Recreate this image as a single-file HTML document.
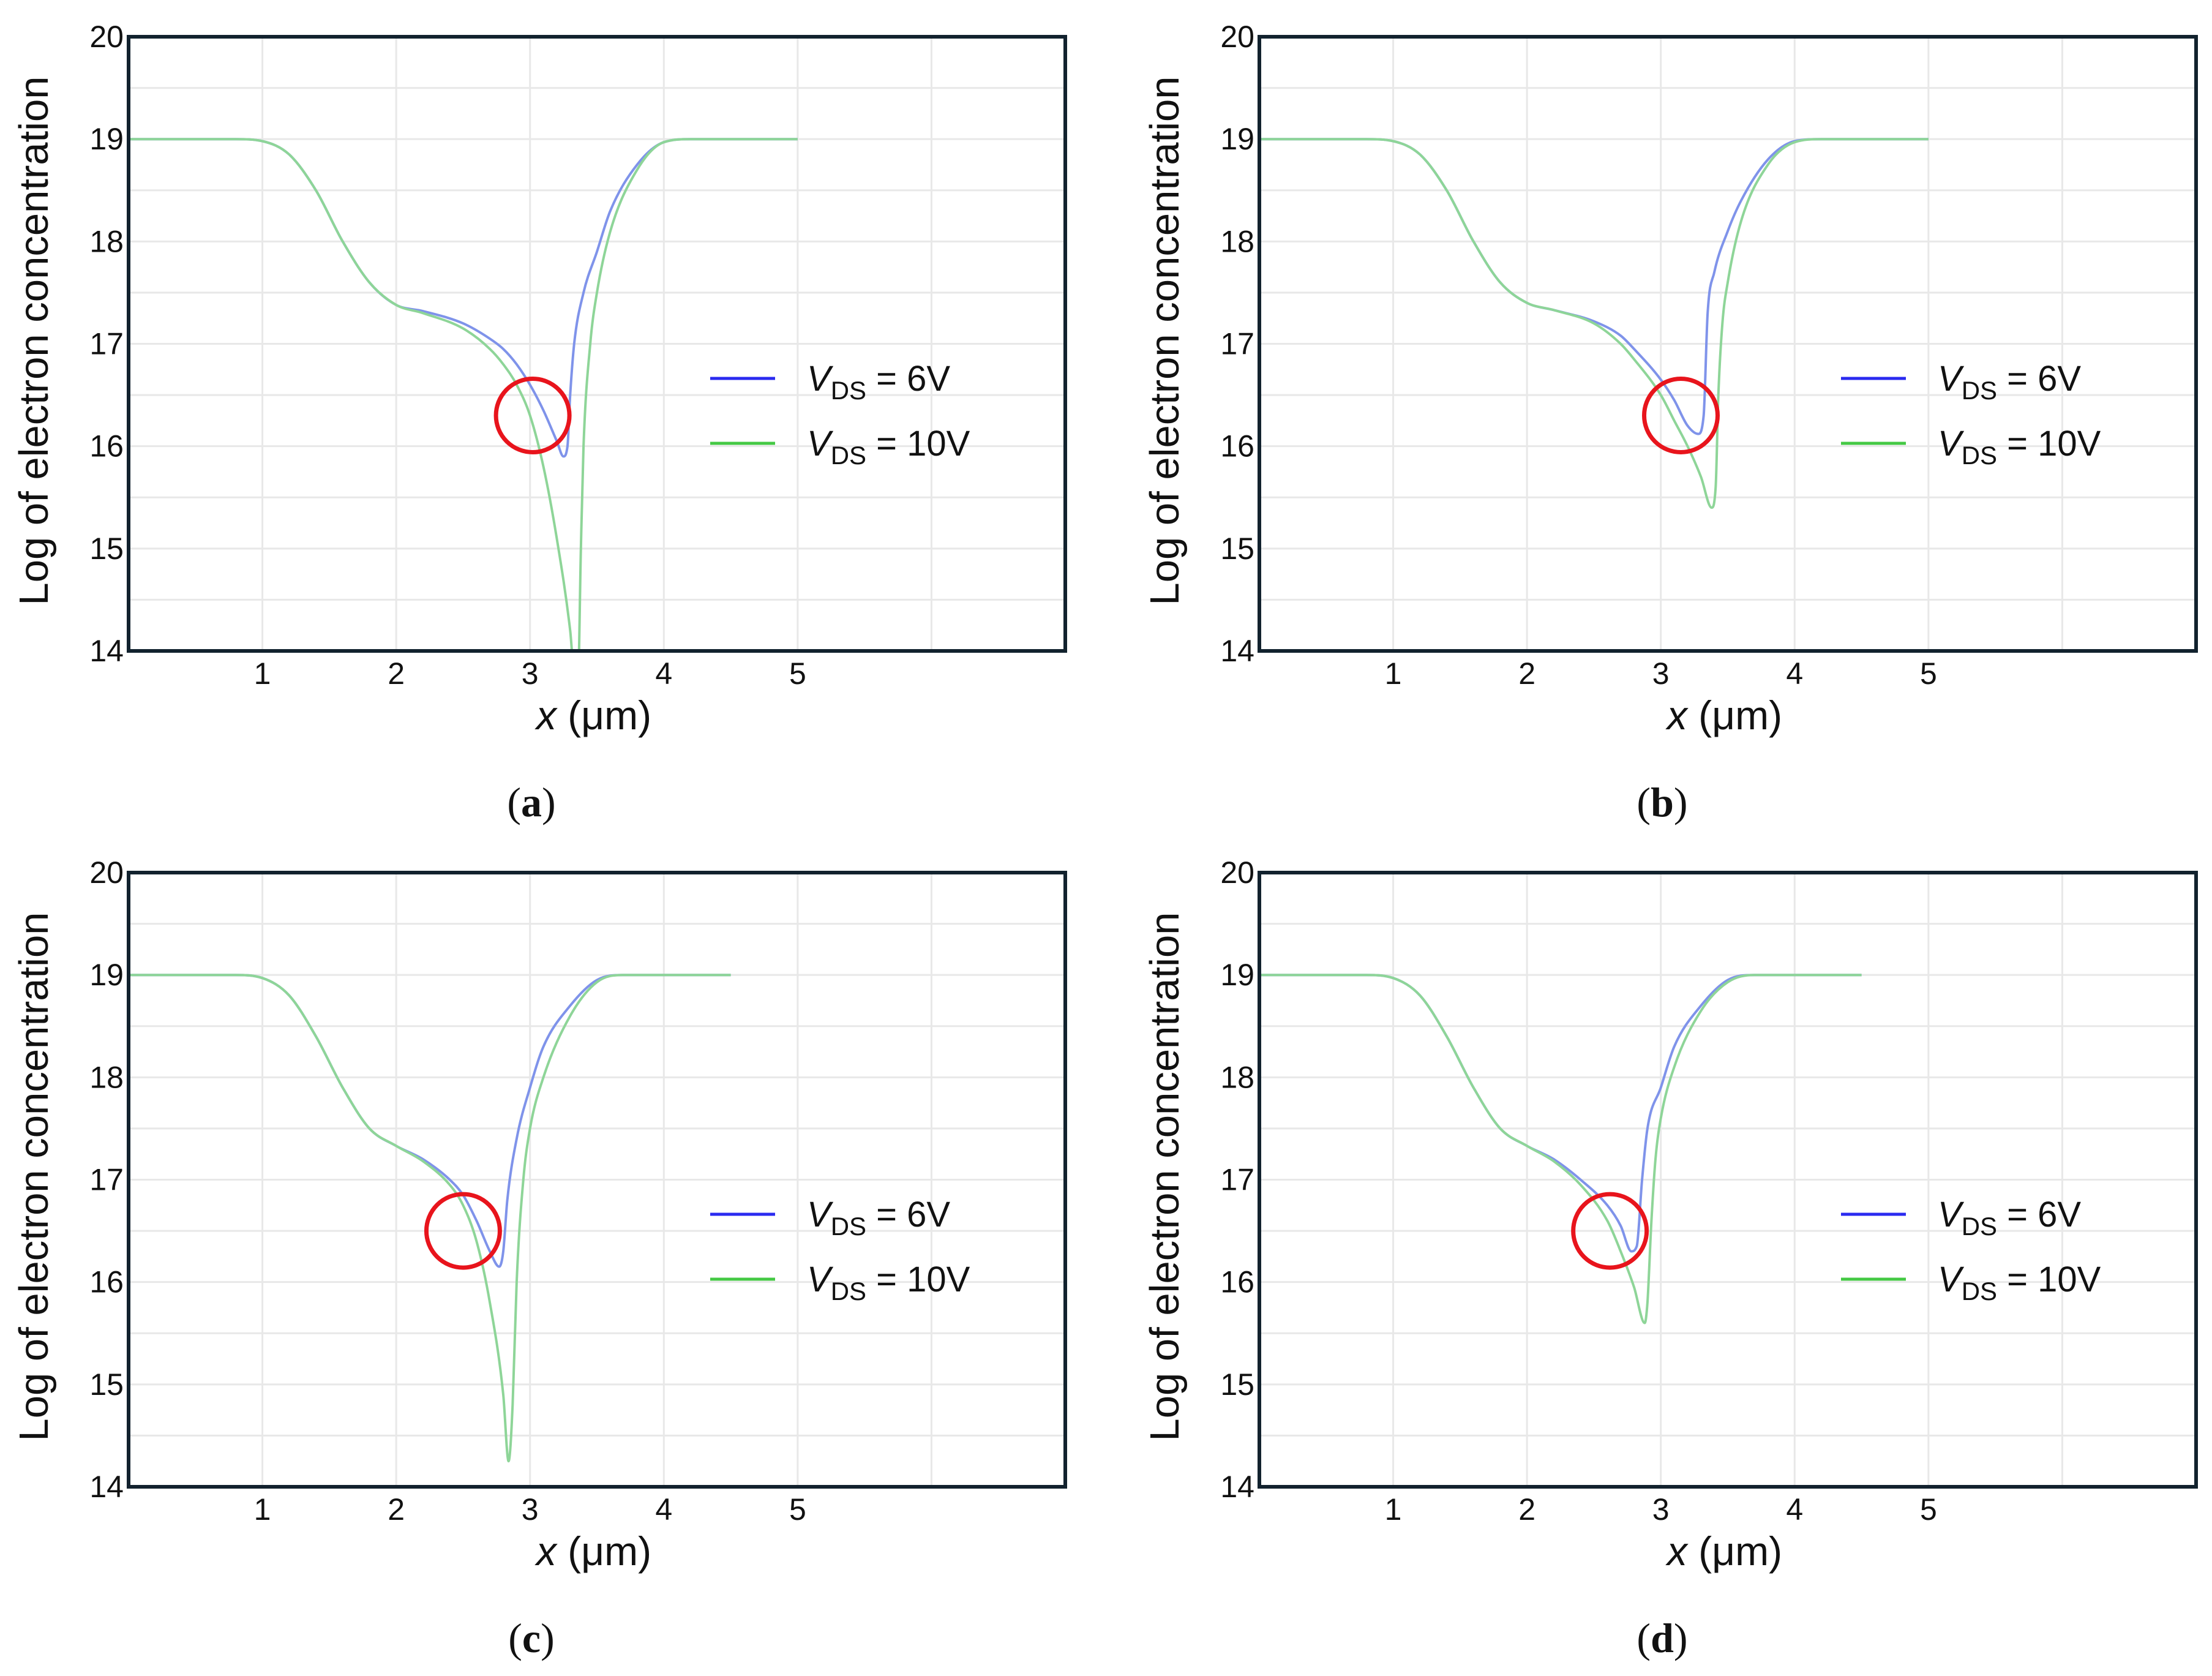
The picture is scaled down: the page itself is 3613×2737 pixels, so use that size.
<!DOCTYPE html>
<html><head><meta charset="utf-8"><style>
html,body{margin:0;padding:0;background:#fff;}
svg{display:block;}
text{font-family:"Liberation Sans",Arial,sans-serif;fill:#111;}
.cap{font-family:"Liberation Serif",serif;}
</style></head><body>
<svg id="fig" width="3613" height="2737" viewBox="0 0 3613 2737" xmlns="http://www.w3.org/2000/svg"></svg>
<script>
const panelLabels = ["a","b","c","d"];
const xTicks = [1,2,3,4,5];
const yTicks = [14,15,16,17,18,19,20];
const blueX = [
 [0,0.8,1.0,1.2,1.4,1.6,1.8,2.0,2.2,2.5,2.7,2.8,2.9,3.0,3.1,3.2,3.25,3.28,3.3,3.33,3.4,3.5,3.6,3.8,4.0,4.2,5.0],
 [0,0.8,1.0,1.2,1.4,1.6,1.8,2.0,2.2,2.5,2.7,2.8,3.0,3.1,3.2,3.28,3.32,3.35,3.4,3.5,3.6,3.8,4.0,4.2,5.0],
 [0,0.8,1.0,1.2,1.4,1.6,1.8,2.0,2.2,2.4,2.5,2.6,2.7,2.77,2.8,2.83,2.9,3.0,3.1,3.3,3.5,3.7,4.5],
 [0,0.8,1.0,1.2,1.4,1.6,1.8,2.0,2.2,2.4,2.6,2.7,2.78,2.82,2.86,2.9,3.0,3.1,3.3,3.5,3.7,4.5]
];
const blueY = [
 [19,19,18.98,18.85,18.5,18.0,17.6,17.38,17.32,17.2,17.05,16.95,16.8,16.6,16.35,16.05,15.9,16.0,16.5,17.0,17.5,17.9,18.3,18.75,18.97,19,19],
 [19,19,18.98,18.85,18.5,18.0,17.6,17.4,17.33,17.22,17.08,16.95,16.65,16.45,16.2,16.12,16.3,17.3,17.7,18.1,18.4,18.8,18.98,19,19],
 [19,19,18.97,18.8,18.4,17.9,17.5,17.33,17.2,17.0,16.85,16.6,16.3,16.15,16.3,16.8,17.4,17.9,18.3,18.7,18.95,19,19],
 [19,19,18.97,18.8,18.4,17.9,17.5,17.33,17.2,17.0,16.75,16.55,16.3,16.35,17.0,17.5,17.9,18.3,18.7,18.95,19,19]
];
const greenX = [
 [0,0.8,1.0,1.2,1.4,1.6,1.8,2.0,2.2,2.5,2.7,2.8,2.9,3.0,3.1,3.2,3.3,3.33,3.36,3.38,3.4,3.45,3.5,3.6,3.8,4.0,4.2,5.0],
 [0,0.8,1.0,1.2,1.4,1.6,1.8,2.0,2.2,2.5,2.7,2.8,3.0,3.1,3.2,3.3,3.38,3.41,3.43,3.46,3.5,3.6,3.8,4.0,4.2,5.0],
 [0,0.8,1.0,1.2,1.4,1.6,1.8,2.0,2.2,2.4,2.5,2.6,2.7,2.8,2.84,2.87,2.9,2.95,3.0,3.1,3.3,3.5,3.7,4.5],
 [0,0.8,1.0,1.2,1.4,1.6,1.8,2.0,2.2,2.4,2.6,2.7,2.8,2.88,2.9,2.93,2.96,3.0,3.1,3.3,3.5,3.7,4.5]
];
const greenY = [
 [19,19,18.98,18.85,18.5,18.0,17.6,17.38,17.3,17.15,16.95,16.8,16.6,16.3,15.8,15.1,14.2,13.8,13.8,15,16,17.0,17.5,18.1,18.7,18.97,19,19],
 [19,19,18.98,18.85,18.5,18.0,17.6,17.4,17.33,17.2,17.0,16.85,16.5,16.25,16.0,15.7,15.4,15.6,16.5,17.2,17.6,18.2,18.75,18.97,19,19],
 [19,19,18.97,18.8,18.4,17.9,17.5,17.33,17.18,16.95,16.75,16.4,15.8,14.9,14.25,14.8,16,17.0,17.5,18.0,18.6,18.93,19,19],
 [19,19,18.97,18.8,18.4,17.9,17.5,17.33,17.18,16.95,16.6,16.3,15.95,15.6,15.8,16.6,17.2,17.6,18.1,18.65,18.93,19,19]
];
const circleX = [3.02, 3.15, 2.5, 2.62];
const circleY = [16.3, 16.3, 16.5, 16.5];

const NS="http://www.w3.org/2000/svg";
const svg=document.getElementById('fig');
function mk(tag,attrs,parent){const e=document.createElementNS(NS,tag);for(const k in attrs)e.setAttribute(k,attrs[k]);(parent||svg).appendChild(e);return e;}
// monotone cubic path in pixel space
function monoPath(px,py){
  const n=px.length, d=[], m=new Array(n);
  for(let i=0;i<n-1;i++)d.push((py[i+1]-py[i])/(px[i+1]-px[i]));
  m[0]=d[0];m[n-1]=d[n-2];
  for(let i=1;i<n-1;i++){m[i]=(d[i-1]*d[i]<=0)?0:(d[i-1]+d[i])/2;}
  for(let i=0;i<n-1;i++){
    if(d[i]===0){m[i]=0;m[i+1]=0;continue;}
    const a=m[i]/d[i],b=m[i+1]/d[i],s=a*a+b*b;
    if(s>9){const t=3/Math.sqrt(s);m[i]=t*a*d[i];m[i+1]=t*b*d[i];}
  }
  let s='M'+px[0].toFixed(1)+' '+py[0].toFixed(1);
  for(let i=0;i<n-1;i++){
    const h=(px[i+1]-px[i])/3;
    s+=' C'+(px[i]+h).toFixed(1)+' '+(py[i]+m[i]*h).toFixed(1)+' '+(px[i+1]-h).toFixed(1)+' '+(py[i+1]-m[i+1]*h).toFixed(1)+' '+px[i+1].toFixed(1)+' '+py[i+1].toFixed(1);
  }
  return s;
}
const offX=[0,1847,0,1847], offY=[0,0,1365,1365];
const BW=1530, BH=1003;
for(let p=0;p<4;p++){
  const L=210+offX[p], T=60+offY[p];
  const g=mk('g',{});
  
  
  const sx=v=>L+v/7*BW, sy=v=>T+(20-v)/6*BH;
  const cp=mk('clipPath',{id:'c'+p},g); mk('rect',{x:L,y:T,width:BW,height:BH},cp);
  for(let v=14.5;v<20;v+=0.5){const ln=mk('line',{x1:L,x2:L+BW,y1:sy(v),y2:sy(v),stroke:'#e8e8e8','stroke-width':3},g);}
  for(let v=1;v<7;v++){const ln=mk('line',{x1:sx(v),x2:sx(v),y1:T,y2:T+BH,stroke:'#e8e8e8','stroke-width':3},g);}
  const series=[[blueX[p],blueY[p],'#7f93ea','series-vds-6v'],[greenX[p],greenY[p],'#8ed598','series-vds-10v']];
  for(const s of series){
    const d=monoPath(s[0].map(sx),s[1].map(sy));
    const pa=mk('path',{d:d,fill:'none',stroke:s[2],'stroke-width':4,'stroke-linejoin':'round','clip-path':'url(#c'+p+')'},g);
    
    
  }
  const fr=mk('rect',{x:L,y:T,width:BW,height:BH,fill:'none',stroke:'#12222e','stroke-width':6},g);
  
  for(const v of yTicks){const t=mk('text',{x:L-8,y:sy(v)+17,'text-anchor':'end','font-size':50},g);t.textContent=v;}
  for(const v of xTicks){const t=mk('text',{x:sx(v),y:T+BH+54,'text-anchor':'middle','font-size':50},g);t.textContent=v;}
  const yl=mk('text',{x:0,y:0,'text-anchor':'middle','font-size':67,transform:'translate('+(L-132)+','+(T+BH/2-5)+') rotate(-90)'},g);
  yl.textContent='Log of electron concentration';
  const xl=mk('text',{x:L+BW/2-5,y:T+BH+128,'text-anchor':'middle','font-size':66},g);
  xl.innerHTML='<tspan font-style="italic">x</tspan> (μm)';
  const lg=mk('g',{},g);
  const ents=[['#2a2af0','6V',558],['#44c944','10V',664]];
  for(const e of ents){
    const ee=mk('g',{},lg);
    mk('line',{x1:L+950,x2:L+1056,y1:T+e[2],y2:T+e[2],stroke:e[0],'stroke-width':5},ee);
    const t=mk('text',{x:L+1108,y:T+e[2]+20,'font-size':58},ee);
    t.innerHTML='<tspan font-style="italic">V</tspan><tspan font-size="42" dy="14">DS</tspan><tspan dy="-14"> = '+e[1]+'</tspan>';
  }
  const c=mk('circle',{cx:sx(circleX[p]),cy:sy(circleY[p]),r:60,fill:'none',stroke:'#e8141c','stroke-width':7},g);
  
  const cap=mk('text',{x:L+BW/2-107,y:T+BH+270,'text-anchor':'middle','font-size':68,'class':'cap'},g);
  cap.innerHTML='(<tspan font-weight="bold">'+panelLabels[p]+'</tspan>)';
  
}
</script>
</body></html>
